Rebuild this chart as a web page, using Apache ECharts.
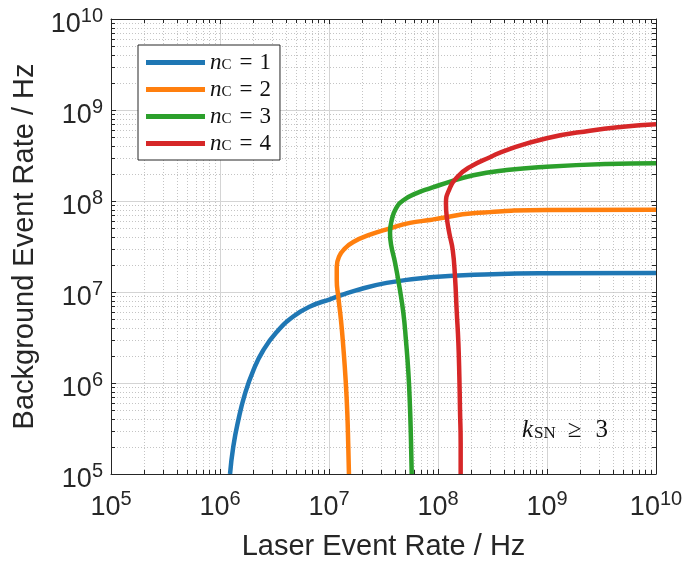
<!DOCTYPE html>
<html>
<head>
<meta charset="utf-8">
<script src="https://cdn.jsdelivr.net/npm/echarts@6/dist/echarts.min.js"></script>
<style>
  html, body { margin: 0; padding: 0; background: #ffffff; }
  #chart { width: 683px; height: 565px; }
</style>
</head>
<body>
<div id="chart"></div>
<script>
// Laser event rate (Hz) and background event rate (Hz) along each contour
const laserN1 = [1.236e6, 1.324e6, 1.472e6, 1.694e6, 2.023e6, 2.495e6, 3.31e6, 4.70e6, 6.70e6, 1.02e7, 1.77e7, 3.38e7, 8.45e7, 3.16e8, 1.0e9, 1.0e10];
const bgN1    = [1e5, 2.0e5, 3.9e5, 7.6e5, 1.38e6, 2.29e6, 3.63e6, 5.37e6, 6.92e6, 8.32e6, 1.04e7, 1.26e7, 1.45e7, 1.57e7, 1.61e7, 1.62e7];

const laserN2 = [1.524e7, 1.503e7, 1.472e7, 1.422e7, 1.352e7, 1.288e7, 1.216e7, 1.178e7, 1.178e7, 1.236e7, 1.403e7, 1.671e7, 2.377e7, 3.63e7, 5.53e7, 8.45e7, 1.04e8, 2.09e8, 9.93e8, 1.0e10];
const bgN2    = [1e5, 2.0e5, 4.68e5, 1.07e6, 2.51e6, 4.9e6, 8.9e6, 1.35e7, 1.9e7, 2.45e7, 3.02e7, 3.55e7, 4.27e7, 5.0e7, 5.75e7, 6.18e7, 6.46e7, 7.33e7, 7.94e7, 8.0e7];

const laserN3 = [5.74e7, 5.65e7, 5.53e7, 5.35e7, 5.08e7, 4.81e7, 4.42e7, 4.04e7, 3.71e7, 3.63e7, 3.76e7, 4.12e7, 4.81e7, 6.38e7, 8.45e7, 1.04e8, 2.11e8, 4.27e8, 9.93e8, 3.53e9, 1.0e10];
const bgN3    = [1e5, 2.34e5, 5.5e5, 1.29e6, 2.95e6, 5.9e6, 1.15e7, 2.09e7, 3.31e7, 4.47e7, 6.17e7, 8.3e7, 1.02e8, 1.22e8, 1.38e8, 1.5e8, 1.92e8, 2.19e8, 2.38e8, 2.55e8, 2.6e8];

const laserN4 = [1.614e8, 1.614e8, 1.592e8, 1.570e8, 1.538e8, 1.483e8, 1.432e8, 1.365e8, 1.271e8, 1.202e8, 1.183e8, 1.262e8, 1.51e8, 1.97e8, 3.0e8, 4.27e8, 9.93e8, 2.48e9, 5.0e9, 1.0e10];
const bgN4    = [1e5, 2.19e5, 5.0e5, 1.17e6, 2.75e6, 6.3e6, 1.47e7, 2.9e7, 4.4e7, 6.7e7, 9.4e7, 1.32e8, 1.85e8, 2.37e8, 3.03e8, 3.63e8, 4.89e8, 5.93e8, 6.56e8, 6.97e8];

const coincidences = [1, 2, 3, 4];
const seriesColors = ['#1f77b4', '#ff7f0e', '#2ca02c', '#d62728'];
const axisMin = 1e5;
const axisMax = 1e10;

const curves = [[laserN1, bgN1], [laserN2, bgN2], [laserN3, bgN3], [laserN4, bgN4]];

// minor decade values 2..9 x 10^k
const minorValues = [];
for (let e = 5; e < 10; e++) {
  for (let m = 2; m <= 9; m++) minorValues.push(m * Math.pow(10, e));
}

const AXIS_COLOR = '#262626';
const SANS = 'Liberation Sans, Arial, Helvetica, sans-serif';
const SERIF = 'Liberation Serif, Times New Roman, serif';

function powLabel(v) {
  const e = Math.round(Math.log10(v));
  return '{b|10}{s|' + e + '}';
}
const powRich = {
  b: { fontSize: 27, fontFamily: SANS, color: AXIS_COLOR, lineHeight: 38 },
  s: { fontSize: 20, fontFamily: SANS, color: AXIS_COLOR, verticalAlign: 'top', lineHeight: 20 }
};

const crisp = v => Math.round(v) + 0.5;

// dotted minor grid lines and short inward minor ticks on all four sides
function minorXItem(params, api) {
  const cs = params.coordSys;
  const x = crisp(api.coord([api.value(0), axisMin])[0]);
  const y0 = cs.y, y1 = cs.y + cs.height;
  return { type: 'group', silent: true, children: [
    { type: 'line', shape: { x1: x, y1: y0, x2: x, y2: y1 }, style: { stroke: '#c4c4c4', lineWidth: 1, lineDash: [1, 2] } },
    { type: 'line', shape: { x1: x, y1: y1, x2: x, y2: y1 - 4 }, style: { stroke: AXIS_COLOR, lineWidth: 1 } },
    { type: 'line', shape: { x1: x, y1: y0, x2: x, y2: y0 + 4 }, style: { stroke: AXIS_COLOR, lineWidth: 1 } }
  ]};
}
function minorYItem(params, api) {
  const cs = params.coordSys;
  const y = crisp(api.coord([axisMin, api.value(1)])[1]);
  const x0 = cs.x, x1 = cs.x + cs.width;
  return { type: 'group', silent: true, children: [
    { type: 'line', shape: { x1: x0, y1: y, x2: x1, y2: y }, style: { stroke: '#c4c4c4', lineWidth: 1, lineDash: [1, 2] } },
    { type: 'line', shape: { x1: x0, y1: y, x2: x0 + 4, y2: y }, style: { stroke: AXIS_COLOR, lineWidth: 1 } },
    { type: 'line', shape: { x1: x1, y1: y, x2: x1 - 4, y2: y }, style: { stroke: AXIS_COLOR, lineWidth: 1 } }
  ]};
}

const baseAxis = {
  type: 'log',
  logBase: 10,
  min: axisMin,
  max: axisMax,
  splitNumber: 5,
  axisLine: { show: true, onZero: false, lineStyle: { color: AXIS_COLOR, width: 1 } },
  axisTick: { show: true, inside: true, length: 5, lineStyle: { color: AXIS_COLOR } },
  minorTick: { show: false },
  minorSplitLine: { show: false }
};

const chart = echarts.init(document.getElementById('chart'), null, { renderer: 'canvas' });

const lineSeries = curves.map((c, i) => ({
  name: 'nC' + coincidences[i],
  type: 'line',
  data: c[0].map((x, j) => [x, c[1][j]]),
  showSymbol: false,
  symbol: 'none',
  smooth: 0.5,
  clip: true,
  z: 5,
  lineStyle: { color: seriesColors[i], width: 4.5, cap: 'butt', join: 'round' },
  itemStyle: { color: seriesColors[i] }
}));

chart.setOption({
  animation: false,
  backgroundColor: '#ffffff',
  grid: { left: 111, right: 27, top: 19, bottom: 91, containLabel: false, outerBoundsMode: 'none' },
  xAxis: [
    Object.assign({}, baseAxis, {
      position: 'bottom',
      name: 'Laser Event Rate / Hz',
      nameLocation: 'middle',
      nameGap: 58,
      nameTextStyle: { fontSize: 29, fontFamily: SANS, color: AXIS_COLOR },
      axisLabel: { show: true, margin: 15, formatter: powLabel, rich: powRich },
      splitLine: { show: true, lineStyle: { color: '#d4d4d4', width: 1 } }
    }),
    Object.assign({}, baseAxis, {
      position: 'top',
      axisLabel: { show: false },
      splitLine: { show: false }
    })
  ],
  yAxis: [
    Object.assign({}, baseAxis, {
      position: 'left',
      name: 'Background Event Rate / Hz',
      nameLocation: 'middle',
      nameGap: 60,
      nameTextStyle: { fontSize: 29, fontFamily: SANS, color: AXIS_COLOR },
      axisLabel: { show: true, margin: 8, padding: [12, 0, 0, 0], formatter: powLabel, rich: powRich },
      splitLine: { show: true, lineStyle: { color: '#d4d4d4', width: 1 } }
    }),
    Object.assign({}, baseAxis, {
      position: 'right',
      axisLabel: { show: false },
      splitLine: { show: false }
    })
  ],
  legend: {
    orient: 'vertical',
    left: 138,
    top: 45,
    padding: [6, 9, 5, 8],
    itemGap: 4,
    itemWidth: 59,
    itemHeight: 5,
    icon: 'rect',
    backgroundColor: '#ffffff',
    borderColor: AXIS_COLOR,
    borderWidth: 1,
    data: lineSeries.map(s => s.name),
    formatter: name => '{n|n}{c|C}{q|=}{v|' + name.slice(2) + '}',
    textStyle: {
      color: '#111111',
      rich: {
        n: { fontSize: 23, fontFamily: SERIF, fontStyle: 'italic', lineHeight: 20 },
        c: { fontSize: 15, fontFamily: SERIF, verticalAlign: 'bottom', lineHeight: 8, padding: [0, 8, 0, 0] },
        q: { fontSize: 23, fontFamily: SERIF, lineHeight: 20, padding: [0, 7, 0, 0] },
        v: { fontSize: 23, fontFamily: SERIF, lineHeight: 20 }
      }
    }
  },
  graphic: [{
    type: 'text',
    left: 522,
    top: 418,
    z: 20,
    style: {
      text: '{k|k}{s|SN}{g|≥}{d|3}',
      rich: {
        k: { fontSize: 25, fontFamily: SERIF, fontStyle: 'italic', fill: '#111111', lineHeight: 24 },
        s: { fontSize: 17, fontFamily: SERIF, fill: '#111111', verticalAlign: 'bottom', lineHeight: 10, padding: [0, 12, 0, 1] },
        g: { fontSize: 25, fontFamily: SERIF, fill: '#111111', lineHeight: 24, padding: [0, 14, 0, 0] },
        d: { fontSize: 25, fontFamily: SERIF, fill: '#111111', lineHeight: 24 }
      }
    }
  }],
  series: [
    {
      type: 'custom',
      renderItem: minorXItem,
      data: minorValues.map(v => [v, axisMin]),
      silent: true,
      z: 1,
      clip: false
    },
    {
      type: 'custom',
      renderItem: minorYItem,
      data: minorValues.map(v => [axisMin, v]),
      silent: true,
      z: 1,
      clip: false
    }
  ].concat(lineSeries)
});
</script>
</body>
</html>
